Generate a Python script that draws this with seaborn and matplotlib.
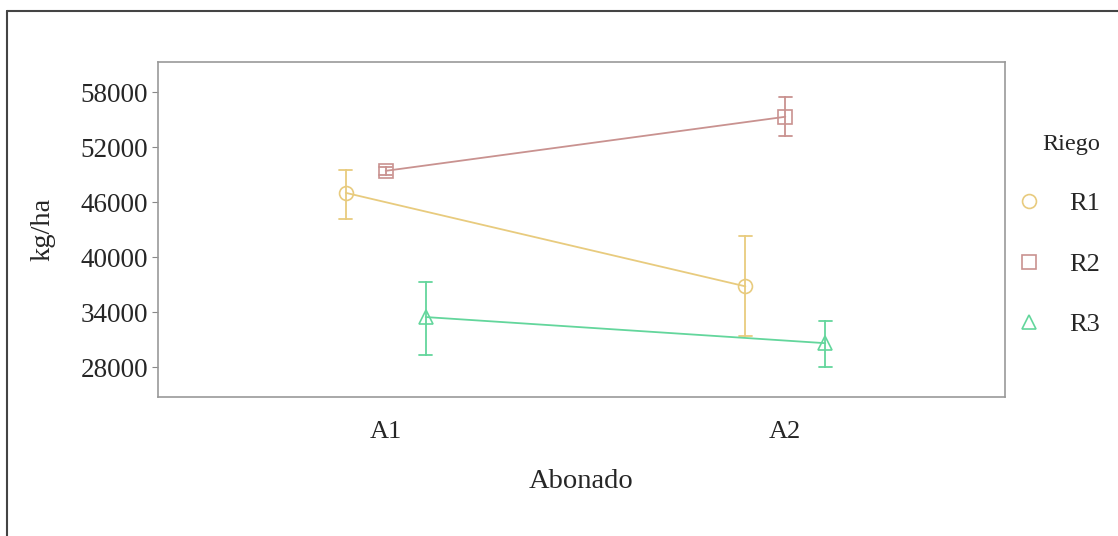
import numpy as np
import pandas as pd
import seaborn as sns
import matplotlib.pyplot as plt
from matplotlib.lines import Line2D

# mean and error-bar limits
abonado = ["A1", "A2"]
riego = ["R1", "R2", "R3"]
media = {"R1": [47000, 36800], "R2": [49400, 55300], "R3": [33450, 30600]}
inferior = {"R1": [44150, 31400], "R2": [49000, 53200], "R3": [29300, 28000]}
superior = {"R1": [49500, 42300], "R2": [49800, 57450], "R3": [37300, 33000]}

colores = {"R1": "#E8CB7E", "R2": "#C99290", "R3": "#63D69C"}
marcadores = {"R1": "o", "R2": "s", "R3": "^"}

rows = []
for r in riego:
    for i, a in enumerate(abonado):
        for v in (inferior[r][i], media[r][i], superior[r][i]):
            rows.append({"Abonado": a, "Riego": r, "kg/ha": v})
df = pd.DataFrame(rows)

sns.set_style("white")
plt.rcParams["font.family"] = ["Liberation Serif", "DejaVu Serif"]

fig = plt.figure(figsize=(11.18, 5.36), dpi=100)
ax = fig.add_axes([0.1413, 0.2593, 0.7577, 0.625])

sns.pointplot(data=df, x="Abonado", y="kg/ha", hue="Riego", order=abonado,
              hue_order=riego, palette=colores, markers=[marcadores[r] for r in riego],
              estimator="median", errorbar=("pi", 100), dodge=0.2, capsize=0.033,
              linewidth=1.3, markersize=10, markeredgewidth=1.2, err_kws={"linewidth": 1.3},
              legend=False, ax=ax)
for ln in ax.lines:
    ln.set_markerfacecolor("none")

ax.set_xlim(-0.57, 1.55)
ax.set_ylim(24727, 61273)
ax.set_yticks([28000, 34000, 40000, 46000, 52000, 58000])
ax.tick_params(axis="y", labelsize=19.5, length=4, color="#888888", left=True, pad=3)
ax.tick_params(axis="x", labelsize=19, length=0, pad=17)
for s in ax.spines.values():
    s.set_color("#999999")
    s.set_linewidth(1.2)
ax.set_xlabel("Abonado", fontsize=20.5, labelpad=19)
ax.set_ylabel("kg/ha", fontsize=20.5, labelpad=18)

handles = [Line2D([], [], linestyle="none", marker=marcadores[r], markersize=10,
                  markerfacecolor="none", markeredgecolor=colores[r], markeredgewidth=1.2)
           for r in riego]
leg = fig.legend(handles, riego, title="Riego", loc="upper left", bbox_to_anchor=(0.909, 0.750),
                 frameon=False, fontsize=19, title_fontsize=17.5, labelspacing=1.40,
                 handlelength=1, handletextpad=1.0, borderpad=0, borderaxespad=0)
leg._legend_box.align = "right"

# outer frame (top and left edges only)
fig.add_artist(Line2D([7 / 1118, 1], [1 - 11 / 536, 1 - 11 / 536], color="#444444", linewidth=1.5))
fig.add_artist(Line2D([7 / 1118, 7 / 1118], [0, 1 - 11 / 536], color="#444444", linewidth=1.5))

fig.savefig("out.png", dpi=100)
